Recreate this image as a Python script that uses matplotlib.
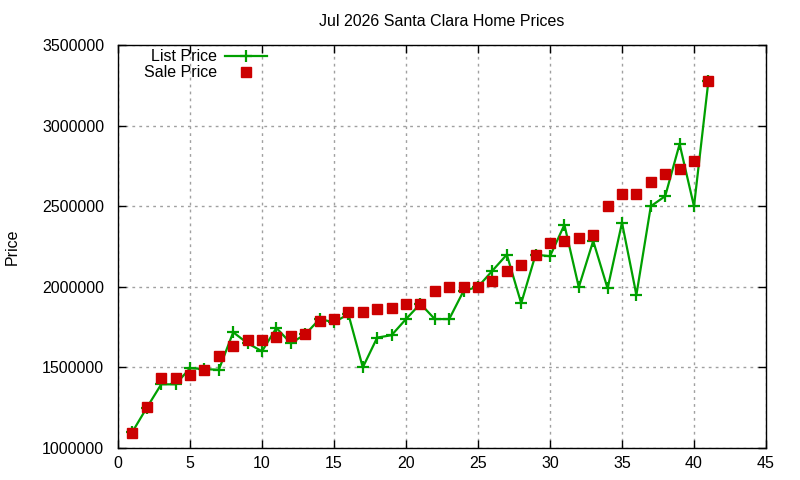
import matplotlib
matplotlib.use('Agg')
import matplotlib.pyplot as plt

plt.rcParams['font.family'] = ['Liberation Sans', 'DejaVu Sans']

# data
index = list(range(1, 42))
list_price = [1100000, 1250000, 1395000, 1395000, 1495000, 1490000, 1485000, 1718000,
              1650000, 1600000, 1745000, 1650000, 1705000, 1800000, 1780000, 1830000,
              1500000, 1685000, 1700000, 1800000, 1895000, 1800000, 1800000, 1975000,
              2000000, 2100000, 2200000, 1898000, 2200000, 2190000, 2385000, 1998000,
              2285000, 1990000, 2398000, 1950000, 2500000, 2563000, 2886000, 2500000,
              3277000]
sale_price = [1095000, 1256000, 1436000, 1436000, 1450000, 1485000, 1570000, 1635000,
              1670000, 1670000, 1690000, 1695000, 1707000, 1790000, 1800000, 1845000,
              1845000, 1860000, 1870000, 1895000, 1895000, 1975000, 2000000, 2000000,
              2000000, 2038000, 2100000, 2137000, 2200000, 2273000, 2286000, 2305000,
              2323000, 2500000, 2578000, 2578000, 2650000, 2700000, 2733000, 2782000,
              3277000]

fig = plt.figure(figsize=(8, 4.8), dpi=100)
ax = fig.add_axes([0.1475, 0.0667, 0.81, 0.8393])

ax.plot(index, list_price, color='#00a000', linewidth=1.6, marker='+',
        markersize=9, markeredgewidth=1.6, label='List Price')
ax.plot(index, sale_price, linestyle='none', color='#cc0000', marker='s',
        markersize=7, label='Sale Price')

ax.set_xlim(0, 45)
ax.set_ylim(1000000, 3500000)
ax.set_xticks(range(0, 46, 5))
ax.set_yticks(range(1000000, 3500001, 500000))
ax.ticklabel_format(style='plain', useOffset=False)
ax.tick_params(direction='in', top=True, right=True, labelsize=11.5, length=6, width=1)
ax.tick_params(axis='x', pad=6)
ax.tick_params(axis='y', pad=10)

ax.grid(True, linestyle=(0, (2, 3)), color='#a0a0a0', linewidth=1)
for s in ax.spines.values():
    s.set_linewidth(1)

ax.set_title('Jul 2026 Santa Clara Home Prices', fontsize=11.5, pad=14)
ax.set_ylabel('Price', fontsize=11.5, labelpad=16)

ax.legend(loc='upper right', bbox_to_anchor=(0.2398, 1.005), frameon=False,
          markerfirst=False, fontsize=11.5, handlelength=2.6,
          borderaxespad=0.0, labelspacing=0.05, handletextpad=0.5)

fig.savefig('out.png', dpi=100)
